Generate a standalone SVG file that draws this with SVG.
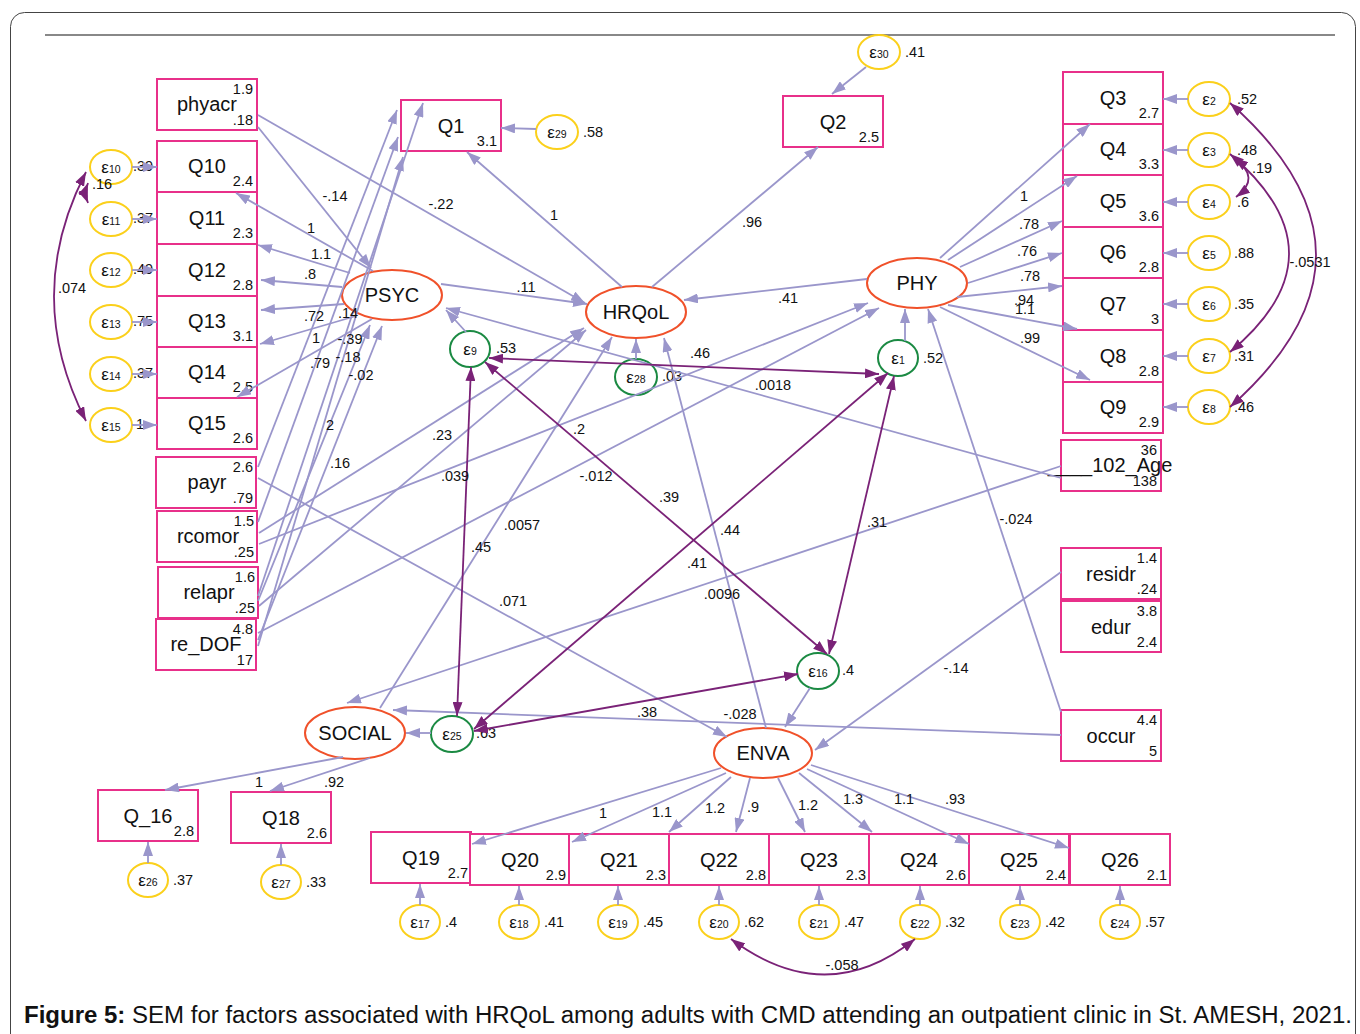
<svg xmlns="http://www.w3.org/2000/svg" width="1360" height="1034" viewBox="0 0 1360 1034">
<style>
text{font-family:"Liberation Sans",Arial,sans-serif;fill:#111}
.box{fill:#fff;stroke:#e8308a;stroke-width:2}
.lat{fill:#fff;stroke:#f0512a;stroke-width:2}
.ey{fill:#fff;stroke:#fbd01b;stroke-width:2}
.eg{fill:#fff;stroke:#1b8a43;stroke-width:2}
.lb{font-size:20px;text-anchor:middle}
.v{font-size:14.5px;text-anchor:end}
.el{font-size:17px;text-anchor:middle}
.el tspan{font-size:10.5px}
.vr{font-size:14.5px}
.t{font-size:14.5px;text-anchor:middle}
.p{fill:none;stroke:#9a96cb;stroke-width:1.8;marker-end:url(#a)}
.c{fill:none;stroke:#7a2277;stroke-width:1.8;marker-end:url(#c);marker-start:url(#c)}
</style>
<defs>
<marker id="a" viewBox="0 0 14 10" markerWidth="14" markerHeight="10" refX="14" refY="5" orient="auto" markerUnits="userSpaceOnUse"><path d="M0,0L14,5L0,10z" fill="#9a96cb"/></marker>
<marker id="c" viewBox="0 0 14 10" markerWidth="14" markerHeight="10" refX="14" refY="5" orient="auto-start-reverse" markerUnits="userSpaceOnUse"><path d="M0,0L14,5L0,10z" fill="#7a2277"/></marker>
</defs>
<rect x="10.5" y="12.5" width="1345" height="1040" rx="14" fill="#fff" stroke="#444" stroke-width="1"/>
<line x1="45" y1="35" x2="1335" y2="35" stroke="#888" stroke-width="2"/>

<g id="phyacr"><rect class="box" x="157" y="79" width="100" height="51"/><text class="v" x="253" y="94">1.9</text><text class="lb" x="207" y="111">phyacr</text><text class="v" x="253" y="125">.18</text></g>
<g id="Q10"><rect class="box" x="157" y="141" width="100" height="51"/><text class="lb" x="207" y="173">Q10</text><text class="v" x="253" y="186">2.4</text></g>
<g id="Q11"><rect class="box" x="157" y="192" width="100" height="52"/><text class="lb" x="207" y="225">Q11</text><text class="v" x="253" y="238">2.3</text></g>
<g id="Q12"><rect class="box" x="157" y="244" width="100" height="52"/><text class="lb" x="207" y="277">Q12</text><text class="v" x="253" y="290">2.8</text></g>
<g id="Q13"><rect class="box" x="157" y="296" width="100" height="51"/><text class="lb" x="207" y="328">Q13</text><text class="v" x="253" y="341">3.1</text></g>
<g id="Q14"><rect class="box" x="157" y="347" width="100" height="51"/><text class="lb" x="207" y="379">Q14</text><text class="v" x="253" y="392">2.5</text></g>
<g id="Q15"><rect class="box" x="157" y="398" width="100" height="51"/><text class="lb" x="207" y="430">Q15</text><text class="v" x="253" y="443">2.6</text></g>
<g id="payr"><rect class="box" x="156" y="457" width="100" height="51"/><text class="v" x="253" y="472">2.6</text><text class="lb" x="207" y="489">payr</text><text class="v" x="253" y="503">.79</text></g>
<g id="rcomor"><rect class="box" x="157" y="511" width="100" height="51"/><text class="v" x="254" y="526">1.5</text><text class="lb" x="208" y="543">rcomor</text><text class="v" x="254" y="557">.25</text></g>
<g id="relapr"><rect class="box" x="158" y="567" width="100" height="51"/><text class="v" x="255" y="582">1.6</text><text class="lb" x="209" y="599">relapr</text><text class="v" x="255" y="613">.25</text></g>
<g id="re_DOF"><rect class="box" x="156" y="619" width="100" height="51"/><text class="v" x="253" y="634">4.8</text><text class="lb" x="206" y="651">re_DOF</text><text class="v" x="253" y="665">17</text></g>
<g id="Q1"><rect class="box" x="401" y="100" width="100" height="51"/><text class="lb" x="451" y="133">Q1</text><text class="v" x="497" y="146">3.1</text></g>
<g id="Q2"><rect class="box" x="783" y="96" width="100" height="51"/><text class="lb" x="833" y="129">Q2</text><text class="v" x="879" y="142">2.5</text></g>
<g id="Q3"><rect class="box" x="1063" y="72" width="100" height="52"/><text class="lb" x="1113" y="105">Q3</text><text class="v" x="1159" y="118">2.7</text></g>
<g id="Q4"><rect class="box" x="1063" y="124" width="100" height="51"/><text class="lb" x="1113" y="156">Q4</text><text class="v" x="1159" y="169">3.3</text></g>
<g id="Q5"><rect class="box" x="1063" y="175" width="100" height="52"/><text class="lb" x="1113" y="208">Q5</text><text class="v" x="1159" y="221">3.6</text></g>
<g id="Q6"><rect class="box" x="1063" y="227" width="100" height="51"/><text class="lb" x="1113" y="259">Q6</text><text class="v" x="1159" y="272">2.8</text></g>
<g id="Q7"><rect class="box" x="1063" y="278" width="100" height="52"/><text class="lb" x="1113" y="311">Q7</text><text class="v" x="1159" y="324">3</text></g>
<g id="Q8"><rect class="box" x="1063" y="330" width="100" height="52"/><text class="lb" x="1113" y="363">Q8</text><text class="v" x="1159" y="376">2.8</text></g>
<g id="Q9"><rect class="box" x="1063" y="382" width="100" height="51"/><text class="lb" x="1113" y="414">Q9</text><text class="v" x="1159" y="427">2.9</text></g>
<g id="age"><rect class="box" x="1061" y="440" width="100" height="51"/><text class="v" x="1157" y="455">36</text><text class="lb" x="1110" y="472">____102_Age</text><text class="v" x="1157" y="486">138</text></g>
<g id="residr"><rect class="box" x="1061" y="548" width="100" height="51"/><text class="v" x="1157" y="563">1.4</text><text class="lb" x="1111" y="581">residr</text><text class="v" x="1157" y="594">.24</text></g>
<g id="edur"><rect class="box" x="1061" y="601" width="100" height="51"/><text class="v" x="1157" y="616">3.8</text><text class="lb" x="1111" y="634">edur</text><text class="v" x="1157" y="647">2.4</text></g>
<g id="occur"><rect class="box" x="1061" y="710" width="100" height="51"/><text class="v" x="1157" y="725">4.4</text><text class="lb" x="1111" y="743">occur</text><text class="v" x="1157" y="756">5</text></g>
<g id="Q_16"><rect class="box" x="98" y="790" width="100" height="51"/><text class="lb" x="148" y="823">Q_16</text><text class="v" x="194" y="836">2.8</text></g>
<g id="Q18"><rect class="box" x="231" y="792" width="100" height="51"/><text class="lb" x="281" y="825">Q18</text><text class="v" x="327" y="838">2.6</text></g>
<g id="Q19"><rect class="box" x="371" y="832" width="100" height="51"/><text class="lb" x="421" y="865">Q19</text><text class="v" x="468" y="878">2.7</text></g>
<g id="Q20"><rect class="box" x="470" y="834" width="100" height="51"/><text class="lb" x="520" y="867">Q20</text><text class="v" x="566" y="880">2.9</text></g>
<g id="Q21"><rect class="box" x="569" y="834" width="100" height="51"/><text class="lb" x="619" y="867">Q21</text><text class="v" x="666" y="880">2.3</text></g>
<g id="Q22"><rect class="box" x="669" y="834" width="100" height="51"/><text class="lb" x="719" y="867">Q22</text><text class="v" x="766" y="880">2.8</text></g>
<g id="Q23"><rect class="box" x="769" y="834" width="100" height="51"/><text class="lb" x="819" y="867">Q23</text><text class="v" x="866" y="880">2.3</text></g>
<g id="Q24"><rect class="box" x="869" y="834" width="100" height="51"/><text class="lb" x="919" y="867">Q24</text><text class="v" x="966" y="880">2.6</text></g>
<g id="Q25"><rect class="box" x="969" y="834" width="100" height="51"/><text class="lb" x="1019" y="867">Q25</text><text class="v" x="1066" y="880">2.4</text></g>
<g id="Q26"><rect class="box" x="1070" y="834" width="100" height="51"/><text class="lb" x="1120" y="867">Q26</text><text class="v" x="1167" y="880">2.1</text></g>

<g id="PSYC"><ellipse class="lat" cx="392" cy="295" rx="50" ry="25"/><text class="lb" x="392" y="302">PSYC</text></g>
<g id="HRQoL"><ellipse class="lat" cx="636" cy="312" rx="50" ry="26"/><text class="lb" x="636" y="319">HRQoL</text></g>
<g id="PHY"><ellipse class="lat" cx="917" cy="283" rx="50" ry="25"/><text class="lb" x="917" y="290">PHY</text></g>
<g id="SOCIAL"><ellipse class="lat" cx="355" cy="733" rx="50" ry="26"/><text class="lb" x="355" y="740">SOCIAL</text></g>
<g id="ENVA"><ellipse class="lat" cx="763" cy="753" rx="49" ry="25"/><text class="lb" x="763" y="760">ENVA</text></g>

<g id="e10"><ellipse class="ey" cx="111" cy="167" rx="21" ry="17"/><text class="el" x="111" y="173">ε<tspan>10</tspan></text><text class="vr" x="133" y="171">.39</text></g>
<g id="e11"><ellipse class="ey" cx="111" cy="219" rx="21" ry="17"/><text class="el" x="111" y="225">ε<tspan>11</tspan></text><text class="vr" x="133" y="223">.37</text></g>
<g id="e12"><ellipse class="ey" cx="111" cy="270" rx="21" ry="17"/><text class="el" x="111" y="276">ε<tspan>12</tspan></text><text class="vr" x="133" y="274">.49</text></g>
<g id="e13"><ellipse class="ey" cx="111" cy="322" rx="21" ry="17"/><text class="el" x="111" y="328">ε<tspan>13</tspan></text><text class="vr" x="133" y="326">.75</text></g>
<g id="e14"><ellipse class="ey" cx="111" cy="374" rx="21" ry="17"/><text class="el" x="111" y="380">ε<tspan>14</tspan></text><text class="vr" x="133" y="378">.37</text></g>
<g id="e15"><ellipse class="ey" cx="111" cy="425" rx="21" ry="17"/><text class="el" x="111" y="431">ε<tspan>15</tspan></text><text class="vr" x="136" y="429">1</text></g>
<g id="e29"><ellipse class="ey" cx="557" cy="132" rx="21" ry="17"/><text class="el" x="557" y="138">ε<tspan>29</tspan></text><text class="vr" x="583" y="137">.58</text></g>
<g id="e30"><ellipse class="ey" cx="879" cy="52" rx="21" ry="17"/><text class="el" x="879" y="58">ε<tspan>30</tspan></text><text class="vr" x="905" y="57">.41</text></g>
<g id="e2"><ellipse class="ey" cx="1209" cy="99" rx="21" ry="17"/><text class="el" x="1209" y="105">ε<tspan>2</tspan></text><text class="vr" x="1237" y="104">.52</text></g>
<g id="e3"><ellipse class="ey" cx="1209" cy="150" rx="21" ry="17"/><text class="el" x="1209" y="156">ε<tspan>3</tspan></text><text class="vr" x="1237" y="155">.48</text></g>
<g id="e4"><ellipse class="ey" cx="1209" cy="202" rx="21" ry="17"/><text class="el" x="1209" y="208">ε<tspan>4</tspan></text><text class="vr" x="1237" y="207">.6</text></g>
<g id="e5"><ellipse class="ey" cx="1209" cy="253" rx="21" ry="17"/><text class="el" x="1209" y="259">ε<tspan>5</tspan></text><text class="vr" x="1234" y="258">.88</text></g>
<g id="e6"><ellipse class="ey" cx="1209" cy="304" rx="21" ry="17"/><text class="el" x="1209" y="310">ε<tspan>6</tspan></text><text class="vr" x="1234" y="309">.35</text></g>
<g id="e7"><ellipse class="ey" cx="1209" cy="356" rx="21" ry="17"/><text class="el" x="1209" y="362">ε<tspan>7</tspan></text><text class="vr" x="1234" y="361">.31</text></g>
<g id="e8"><ellipse class="ey" cx="1209" cy="407" rx="21" ry="17"/><text class="el" x="1209" y="413">ε<tspan>8</tspan></text><text class="vr" x="1234" y="412">.46</text></g>
<g id="e26"><ellipse class="ey" cx="148" cy="880" rx="20" ry="17"/><text class="el" x="148" y="886">ε<tspan>26</tspan></text><text class="vr" x="173" y="885">.37</text></g>
<g id="e27"><ellipse class="ey" cx="281" cy="882" rx="20" ry="17"/><text class="el" x="281" y="888">ε<tspan>27</tspan></text><text class="vr" x="306" y="887">.33</text></g>
<g id="e17"><ellipse class="ey" cx="420" cy="922" rx="20" ry="17"/><text class="el" x="420" y="928">ε<tspan>17</tspan></text><text class="vr" x="445" y="927">.4</text></g>
<g id="e18"><ellipse class="ey" cx="519" cy="922" rx="20" ry="17"/><text class="el" x="519" y="928">ε<tspan>18</tspan></text><text class="vr" x="544" y="927">.41</text></g>
<g id="e19"><ellipse class="ey" cx="618" cy="922" rx="20" ry="17"/><text class="el" x="618" y="928">ε<tspan>19</tspan></text><text class="vr" x="643" y="927">.45</text></g>
<g id="e20"><ellipse class="ey" cx="719" cy="922" rx="20" ry="17"/><text class="el" x="719" y="928">ε<tspan>20</tspan></text><text class="vr" x="744" y="927">.62</text></g>
<g id="e21"><ellipse class="ey" cx="819" cy="922" rx="20" ry="17"/><text class="el" x="819" y="928">ε<tspan>21</tspan></text><text class="vr" x="844" y="927">.47</text></g>
<g id="e22"><ellipse class="ey" cx="920" cy="922" rx="20" ry="17"/><text class="el" x="920" y="928">ε<tspan>22</tspan></text><text class="vr" x="945" y="927">.32</text></g>
<g id="e23"><ellipse class="ey" cx="1020" cy="922" rx="20" ry="17"/><text class="el" x="1020" y="928">ε<tspan>23</tspan></text><text class="vr" x="1045" y="927">.42</text></g>
<g id="e24"><ellipse class="ey" cx="1120" cy="922" rx="20" ry="17"/><text class="el" x="1120" y="928">ε<tspan>24</tspan></text><text class="vr" x="1145" y="927">.57</text></g>
<g id="e9"><ellipse class="eg" cx="470" cy="349" rx="20" ry="18"/><text class="el" x="470" y="355">ε<tspan>9</tspan></text><text class="vr" x="496" y="353">.53</text></g>
<g id="e28"><ellipse class="eg" cx="636" cy="377" rx="21" ry="18"/><text class="el" x="636" y="383">ε<tspan>28</tspan></text><text class="vr" x="662" y="381">.03</text></g>
<g id="e1"><ellipse class="eg" cx="898" cy="358" rx="20" ry="18"/><text class="el" x="898" y="364">ε<tspan>1</tspan></text><text class="vr" x="923" y="363">.52</text></g>
<g id="e16"><ellipse class="eg" cx="818" cy="671" rx="21" ry="18"/><text class="el" x="818" y="677">ε<tspan>16</tspan></text><text class="vr" x="842" y="675">.4</text></g>
<g id="e25"><ellipse class="eg" cx="452" cy="734" rx="21" ry="18"/><text class="el" x="452" y="740">ε<tspan>25</tspan></text><text class="vr" x="476" y="738">.63</text></g>

<g id="connectors">
<path class="p" d="M258,127L371,268"/>
<path class="p" d="M258,115L585,303"/>
<path class="p" d="M441,284L587,304"/>
<path class="p" d="M373,271L236,193"/>
<path class="p" d="M350,273L258,245"/>
<path class="p" d="M342,287L261,280"/>
<path class="p" d="M344,304L261,310"/>
<path class="p" d="M356,316L260,344"/>
<path class="p" d="M372,319L237,397"/>
<path class="p" d="M622,287L467,152"/>
<path class="p" d="M652,287L818,147"/>
<path class="p" d="M867,279L684,300"/>
<path class="p" d="M940,258L1090,124"/>
<path class="p" d="M948,260L1077,176"/>
<path class="p" d="M960,267L1062,221"/>
<path class="p" d="M968,283L1062,253"/>
<path class="p" d="M957,297L1062,286"/>
<path class="p" d="M948,305L1077,329"/>
<path class="p" d="M940,307L1090,380"/>
<path class="p" d="M343,757L165,790"/>
<path class="p" d="M370,758L270,791"/>
<path class="p" d="M380,708L612,337"/>
<path class="p" d="M766,728L664,338"/>
<path class="p" d="M721,768L472,844"/>
<path class="p" d="M726,773L572,842"/>
<path class="p" d="M731,777L669,832"/>
<path class="p" d="M750,778L736,832"/>
<path class="p" d="M778,778L805,832"/>
<path class="p" d="M799,773L872,832"/>
<path class="p" d="M807,769L969,844"/>
<path class="p" d="M811,765L1069,848"/>
<path class="p" d="M258,467L397,110"/>
<path class="p" d="M258,522L398,137"/>
<path class="p" d="M258,596L423,103"/>
<path class="p" d="M258,646L403,157"/>
<path class="p" d="M258,601L370,325"/>
<path class="p" d="M258,640L382,326"/>
<path class="p" d="M259,533L584,328"/>
<path class="p" d="M259,606L586,330"/>
<path class="p" d="M259,544L868,303"/>
<path class="p" d="M258,633L879,308"/>
<path class="p" d="M258,478L727,737"/>
<path class="p" d="M1061,478L446,308"/>
<path class="p" d="M1061,466L347,703"/>
<path class="p" d="M1061,735L393,710"/>
<path class="p" d="M1061,712L928,309"/>
<path class="p" d="M1061,572L815,750"/>
<path class="p" d="M466,332L446,310"/>
<path class="p" d="M636,359L636,339"/>
<path class="p" d="M905,341L905,309"/>
<path class="p" d="M810,688L785,727"/>
<path class="p" d="M431,733L406,733"/>
<path class="p" d="M132,167L157,167"/>
<path class="p" d="M132,219L157,219"/>
<path class="p" d="M132,270L157,270"/>
<path class="p" d="M132,322L157,322"/>
<path class="p" d="M132,374L157,374"/>
<path class="p" d="M132,425L157,425"/>
<path class="p" d="M536,129L501,128"/>
<path class="p" d="M866,67L832,94"/>
<path class="p" d="M1188,99L1163,99"/>
<path class="p" d="M1188,150L1163,150"/>
<path class="p" d="M1188,202L1163,202"/>
<path class="p" d="M1188,253L1163,253"/>
<path class="p" d="M1188,304L1163,304"/>
<path class="p" d="M1188,356L1163,356"/>
<path class="p" d="M1188,407L1163,407"/>
<path class="p" d="M148,863L148,842"/>
<path class="p" d="M281,865L281,844"/>
<path class="p" d="M420,905L420,884"/>
<path class="p" d="M519,905L519,886"/>
<path class="p" d="M618,905L618,886"/>
<path class="p" d="M719,905L719,886"/>
<path class="p" d="M819,905L819,886"/>
<path class="p" d="M920,905L920,886"/>
<path class="p" d="M1020,905L1020,886"/>
<path class="p" d="M1120,905L1120,886"/>
<path class="c" d="M489,358L879,374"/>
<path class="c" d="M485,362L827,654"/>
<path class="c" d="M471,367L457,716"/>
<path class="c" d="M888,373L474,729"/>
<path class="c" d="M894,376L829,654"/>
<path class="c" d="M798,674L474,731"/>
<path class="c" d="M731,939Q826,1010 915,939"/>
<path class="c" d="M1230,103Q1402,255 1230,407"/>
<path class="c" d="M1230,154Q1348,254 1230,352"/>
<path class="c" d="M1234,158Q1262,178 1236,197"/>
<path class="c" d="M86,172Q22,296 86,421"/>
<path class="c" d="M88,183Q84,193 88,203"/>
</g>

<g id="labels">
<text class="t" x="335" y="201">-.14</text>
<text class="t" x="441" y="209">-.22</text>
<text class="t" x="554" y="220">1</text>
<text class="t" x="752" y="227">.96</text>
<text class="t" x="526" y="292">.11</text>
<text class="t" x="788" y="303">.41</text>
<text class="t" x="311" y="233">1</text>
<text class="t" x="321" y="259">1.1</text>
<text class="t" x="310" y="279">.8</text>
<text class="t" x="314" y="321">.72</text>
<text class="t" x="348" y="318">.14</text>
<text class="t" x="316" y="343">1</text>
<text class="t" x="350" y="344">-.39</text>
<text class="t" x="348" y="362">-.18</text>
<text class="t" x="320" y="368">.79</text>
<text class="t" x="361" y="380">-.02</text>
<text class="t" x="330" y="430">2</text>
<text class="t" x="340" y="468">.16</text>
<text class="t" x="442" y="440">.23</text>
<text class="t" x="455" y="481">.039</text>
<text class="t" x="522" y="530">.0057</text>
<text class="t" x="481" y="552">.45</text>
<text class="t" x="513" y="606">.071</text>
<text class="t" x="579" y="434">.2</text>
<text class="t" x="596" y="481">-.012</text>
<text class="t" x="669" y="502">.39</text>
<text class="t" x="730" y="535">.44</text>
<text class="t" x="697" y="568">.41</text>
<text class="t" x="722" y="599">.0096</text>
<text class="t" x="877" y="527">.31</text>
<text class="t" x="1016" y="524">-.024</text>
<text class="t" x="956" y="673">-.14</text>
<text class="t" x="647" y="717">.38</text>
<text class="t" x="740" y="719">-.028</text>
<text class="t" x="700" y="358">.46</text>
<text class="t" x="773" y="390">.0018</text>
<text class="t" x="1024" y="201">1</text>
<text class="t" x="1029" y="229">.78</text>
<text class="t" x="1027" y="256">.76</text>
<text class="t" x="1030" y="281">.78</text>
<text class="t" x="1024" y="305">.94</text>
<text class="t" x="1025" y="314">1.1</text>
<text class="t" x="1030" y="343">.99</text>
<text class="t" x="1262" y="173">.19</text>
<text class="t" x="1310" y="267">-.0531</text>
<text class="t" x="259" y="787">1</text>
<text class="t" x="334" y="787">.92</text>
<text class="t" x="603" y="818">1</text>
<text class="t" x="662" y="817">1.1</text>
<text class="t" x="715" y="813">1.2</text>
<text class="t" x="753" y="812">.9</text>
<text class="t" x="808" y="810">1.2</text>
<text class="t" x="853" y="804">1.3</text>
<text class="t" x="904" y="804">1.1</text>
<text class="t" x="955" y="804">.93</text>
<text class="t" x="842" y="970">-.058</text>
<text class="t" x="72" y="293">.074</text>
<text class="t" x="102" y="189">.16</text>
</g>

<text x="24" y="1023" font-size="23" textLength="1328" lengthAdjust="spacingAndGlyphs"><tspan font-weight="bold">Figure 5:</tspan> SEM for factors associated with HRQoL among adults with CMD attending an outpatient clinic in St. AMESH, 2021.</text>
</svg>
